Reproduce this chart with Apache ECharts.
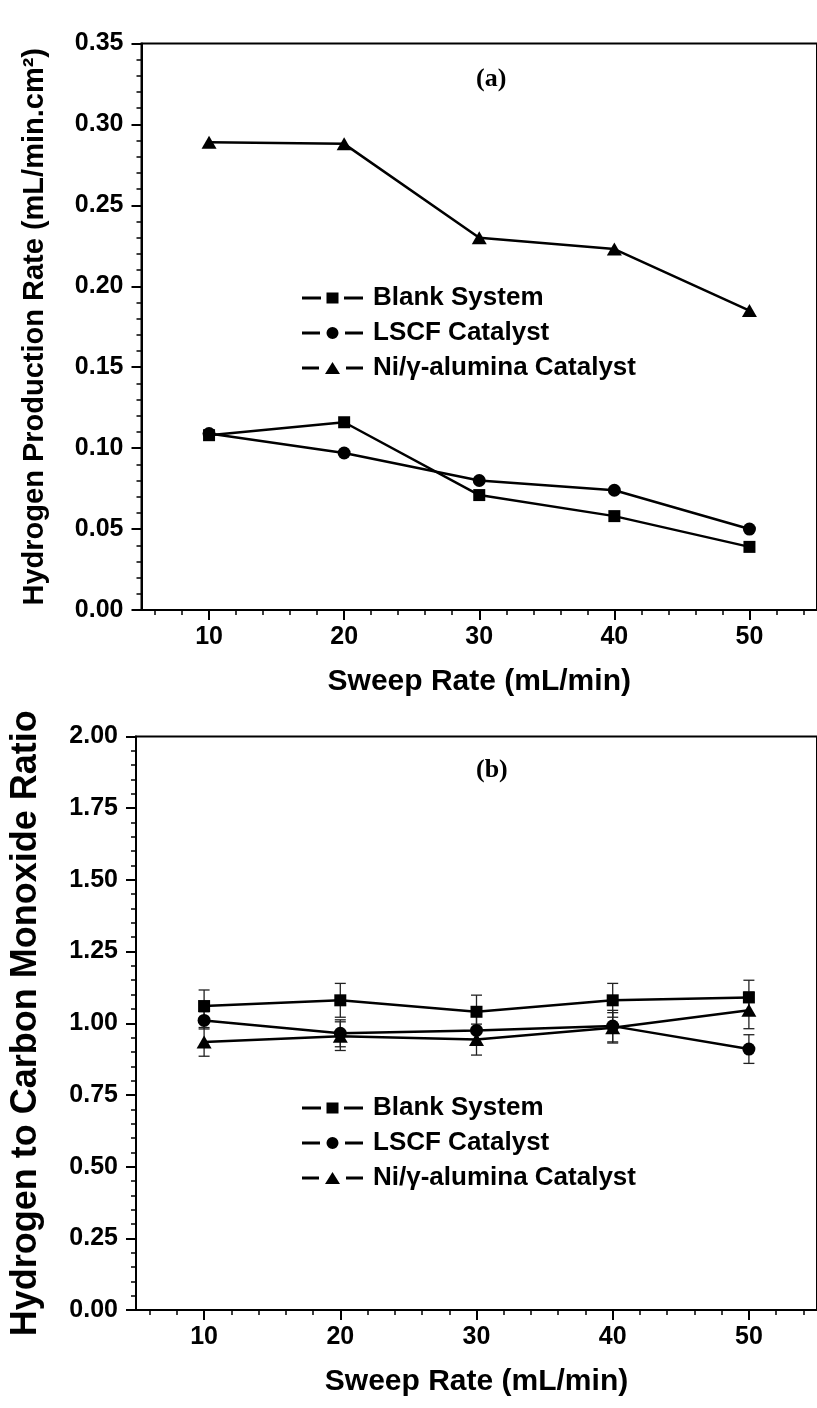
<!DOCTYPE html>
<html>
<head>
<meta charset="utf-8">
<script src="https://cdn.jsdelivr.net/npm/echarts@6/dist/echarts.min.js"></script>
<style>
  html, body { margin: 0; padding: 0; background: #fff; }
  #chart { width: 817px; height: 1408px; }
</style>
</head>
<body>
<div id="chart"></div>
<script>
// Sweep rates (mL/min) and axis tick positions
const sweepRates = [10, 20, 30, 40, 50];
const xMajorTicks = [10, 20, 30, 40, 50];
const xMinorTicks = [6, 8, 12, 14, 16, 18, 22, 24, 26, 28, 32, 34, 36, 38, 42, 44, 46, 48, 52, 54];
const seriesNames = ['Blank System', 'LSCF Catalyst', 'Ni/γ-alumina Catalyst'];

// (a) Hydrogen production rate, mL/min.cm²
const h2RateBlank = [0.108, 0.116, 0.071, 0.058, 0.039];
const h2RateLSCF  = [0.109, 0.097, 0.080, 0.074, 0.050];
const h2RateNi    = [0.289, 0.288, 0.230, 0.223, 0.185];

// (b) Hydrogen to carbon monoxide ratio with standard deviations
const ratioBlank    = [1.06, 1.08, 1.04, 1.08, 1.09];
const ratioBlankErr = [0.056, 0.059, 0.058, 0.059, 0.060];
const ratioLSCF     = [1.01, 0.965, 0.975, 0.99, 0.91];
const ratioLSCFErr  = [0.03, 0.047, 0.05, 0.055, 0.05];
const ratioNi       = [0.935, 0.955, 0.943, 0.984, 1.045];
const ratioNiErr    = [0.05, 0.05, 0.054, 0.053, 0.064];

const SANS = '"Liberation Sans", Arial, sans-serif';
const SERIF = '"Liberation Serif", "Times New Roman", serif';
const markerShapes = ['rect', 'circle', 'triangle'];
const markerSizes = [12, 13, [15, 13]];

// Legend keys: line segment, marker, line segment, with small gaps in between
const legendIcons = [
  'path://M0,4.6h19v2.8h-19Z M24.5,0.5h12v11h-12Z M42,4.6h19v2.8h-19Z',
  'path://M0,4.6h18v2.8h-18Z M24.5,6a6,6 0 1,0 12,0a6,6 0 1,0 -12,0Z M43,4.6h18v2.8h-18Z',
  'path://M0,4.6h17v2.8h-17Z M23,12L30.5,0L38,12Z M44,4.6h17v2.8h-17Z'
];

function pairs(ys) {
  return sweepRates.map((x, i) => [x, ys[i]]);
}

function lineSeries(k, ys, gridIdx) {
  return {
    type: 'line',
    name: seriesNames[k],
    xAxisIndex: gridIdx * 2,
    yAxisIndex: gridIdx,
    data: pairs(ys),
    symbol: markerShapes[k],
    symbolSize: markerSizes[k],
    showSymbol: true,
    lineStyle: { color: '#000', width: 2.5 },
    itemStyle: { color: '#000' },
    emphasis: { disabled: true },
    z: 3
  };
}

function errorBarSeries(ys, errs, gridIdx) {
  return {
    type: 'custom',
    xAxisIndex: gridIdx * 2,
    yAxisIndex: gridIdx,
    silent: true,
    z: 2,
    data: sweepRates.map((x, i) => [x, ys[i] - errs[i], ys[i] + errs[i]]),
    encode: { x: 0, y: [1, 2] },
    renderItem(params, api) {
      const x = api.value(0);
      const lo = api.coord([x, api.value(1)]);
      const hi = api.coord([x, api.value(2)]);
      const hw = 5.5;
      const style = { stroke: '#222', lineWidth: 1.3, fill: null };
      return {
        type: 'group',
        children: [
          { type: 'line', shape: { x1: lo[0], y1: lo[1], x2: hi[0], y2: hi[1] }, style },
          { type: 'line', shape: { x1: lo[0] - hw, y1: lo[1], x2: lo[0] + hw, y2: lo[1] }, style },
          { type: 'line', shape: { x1: hi[0] - hw, y1: hi[1], x2: hi[0] + hw, y2: hi[1] }, style }
        ]
      };
    }
  };
}

function mainXAxis(gridIdx) {
  return {
    type: 'value', gridIndex: gridIdx, position: 'bottom',
    min: 5, max: 55,
    axisLine: { show: true, onZero: false, lineStyle: { color: '#000', width: 2 } },
    axisTick: { show: true, customValues: xMajorTicks, length: 10, lineStyle: { color: '#000', width: 2 } },
    axisLabel: { customValues: xMajorTicks, margin: 15, color: '#000', fontFamily: SANS, fontWeight: 'bold', fontSize: 25 },
    splitLine: { show: false },
    name: 'Sweep Rate (mL/min)', nameLocation: 'middle', nameGap: 57,
    nameTextStyle: { color: '#000', fontFamily: SANS, fontWeight: 'bold', fontSize: 30 }
  };
}

function minorXAxis(gridIdx) {
  return {
    type: 'value', gridIndex: gridIdx, position: 'bottom',
    min: 5, max: 55,
    axisLine: { show: false, onZero: false },
    axisTick: { show: true, customValues: xMinorTicks, length: 5, lineStyle: { color: '#000', width: 1.5 } },
    axisLabel: { show: false },
    splitLine: { show: false }
  };
}

function yAxis(gridIdx, max, interval, name, nameSize) {
  return {
    type: 'value', gridIndex: gridIdx,
    min: 0, max: max, interval: interval,
    axisLine: { show: true, lineStyle: { color: '#000', width: 2 } },
    axisTick: { show: true, length: 10, lineStyle: { color: '#000', width: 2 } },
    minorTick: { show: true, splitNumber: 5, length: 5, lineStyle: { color: '#000', width: 1.5 } },
    axisLabel: { margin: 18, color: '#000', fontFamily: SANS, fontWeight: 'bold', fontSize: 25,
                 formatter: v => v.toFixed(2) },
    splitLine: { show: false },
    name: name, nameLocation: 'middle', nameGap: 92, nameRotate: 90,
    nameTextStyle: { color: '#000', fontFamily: SANS, fontWeight: 'bold', fontSize: nameSize }
  };
}

function legendAt(top) {
  return {
    orient: 'vertical', left: 302, top: top, padding: 0,
    itemWidth: 61, itemHeight: 15, itemGap: 9,
    selectedMode: false,
    data: seriesNames.map((n, k) => ({ name: n, icon: legendIcons[k] })),
    textStyle: { color: '#000', fontFamily: SANS, fontWeight: 'bold', fontSize: 26, padding: [0, 0, 0, 5] }
  };
}

const chart = echarts.init(document.getElementById('chart'), null, { renderer: 'canvas' });

chart.setOption({
  animation: false,
  backgroundColor: '#fff',
  title: [
    { text: '(a)', left: 476, top: 66, padding: 0,
      textStyle: { fontFamily: SERIF, fontWeight: 'bold', fontSize: 26, color: '#000' } },
    { text: '(b)', left: 476, top: 757, padding: 0,
      textStyle: { fontFamily: SERIF, fontWeight: 'bold', fontSize: 26, color: '#000' } }
  ],
  grid: [
    { left: 141.5, top: 43.5, width: 684, height: 566.5, show: true, borderColor: '#000', borderWidth: 2, backgroundColor: 'transparent' },
    { left: 126.5, top: 736.5, width: 703, height: 573.5, show: true, borderColor: '#000', borderWidth: 2, backgroundColor: 'transparent' }
  ],
  xAxis: [mainXAxis(0), minorXAxis(0), mainXAxis(1), minorXAxis(1)],
  yAxis: [
    yAxis(0, 0.35, 0.05, 'Hydrogen Production Rate (mL/min.cm²)', 29),
    yAxis(1, 2.0, 0.25, 'Hydrogen to Carbon Monoxide Ratio', 36)
  ],
  legend: [legendAt(285), legendAt(1095)],
  series: [
    lineSeries(0, h2RateBlank, 0),
    lineSeries(1, h2RateLSCF, 0),
    lineSeries(2, h2RateNi, 0),
    errorBarSeries(ratioBlank, ratioBlankErr, 1),
    errorBarSeries(ratioLSCF, ratioLSCFErr, 1),
    errorBarSeries(ratioNi, ratioNiErr, 1),
    lineSeries(0, ratioBlank, 1),
    lineSeries(1, ratioLSCF, 1),
    lineSeries(2, ratioNi, 1)
  ]
});
</script>
</body>
</html>
